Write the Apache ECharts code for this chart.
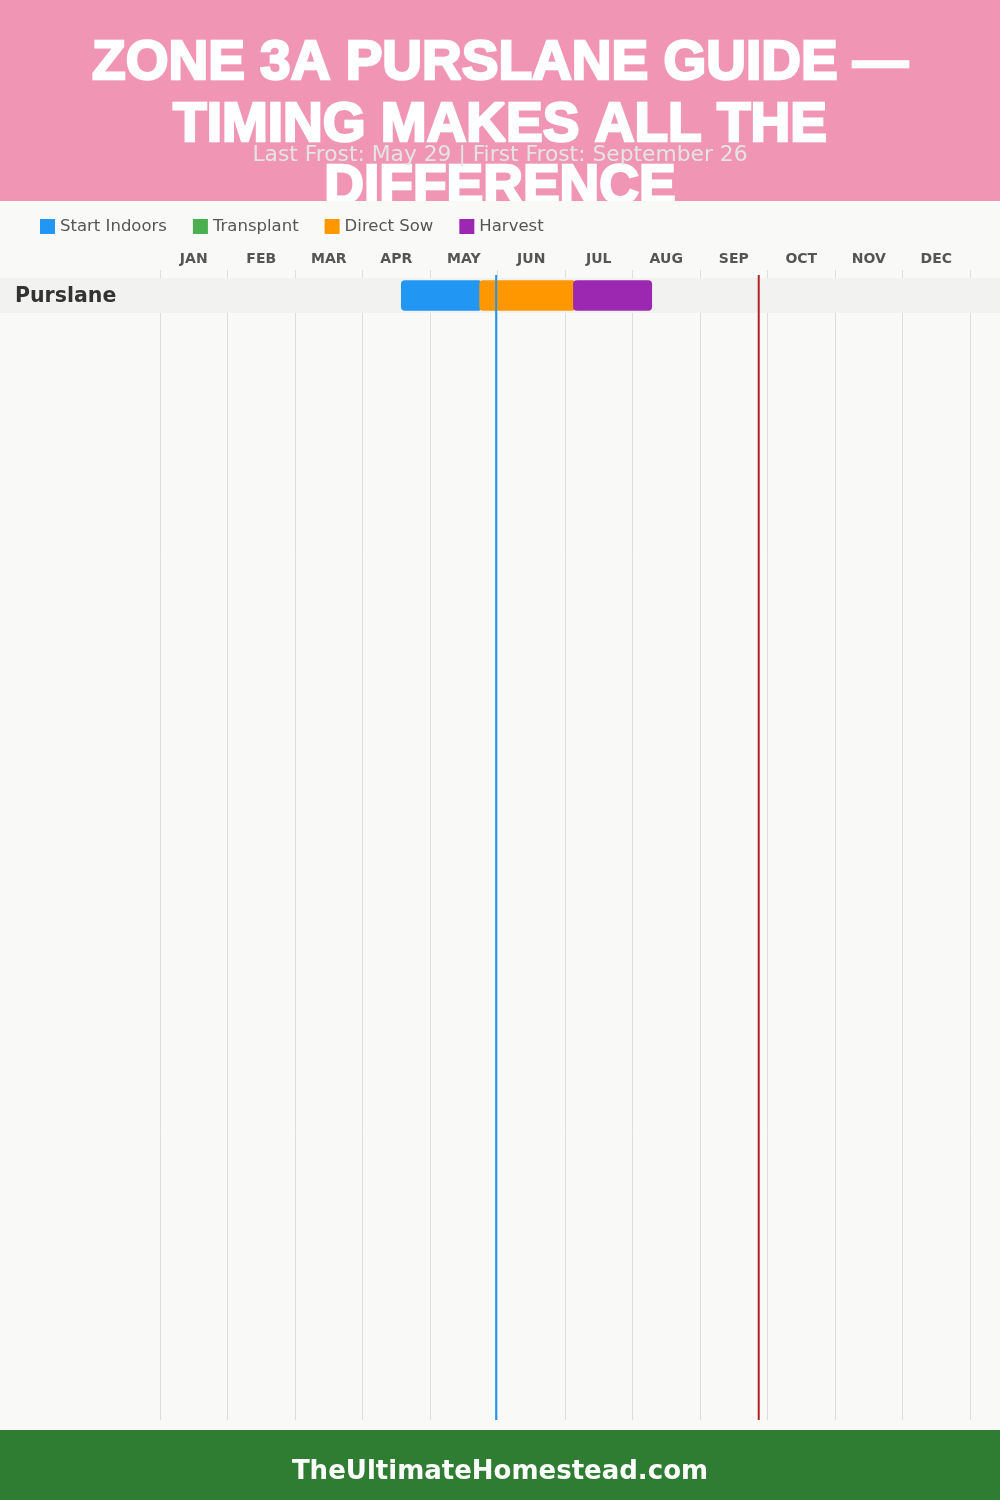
<!DOCTYPE html>
<html>
<head>
<meta charset="utf-8">
<script src="https://cdn.jsdelivr.net/npm/echarts@6/dist/echarts.min.js"></script>
<style>
  html, body { margin: 0; padding: 0; background: #f9f9f8; }
  #chart { width: 1000px; height: 1500px; }
</style>
</head>
<body>
<div id="chart"></div>
<script>
// ---- data ----
const months = ['JAN','FEB','MAR','APR','MAY','JUN','JUL','AUG','SEP','OCT','NOV','DEC'];
const crops = ['Purslane'];
const phaseNames = ['Start Indoors', 'Transplant', 'Direct Sow', 'Harvest'];
const phaseColors = ['#2196F3', '#4CAF50', '#FF9800', '#9C27B0'];
// [cropIndex, start, end] in month units (0 = Jan 1, 12 = Dec 31)
const startIndoors = [[0, 3.57, 4.77]];
const transplant = [];
const directSow = [[0, 4.73, 6.16]];
const harvest = [[0, 6.12, 7.29]];
const frostValues = [4.98, 8.87];           // Last frost (May 29), first frost (Sep 26)
const frostColors = ['#2196F3', '#B22222'];
const titleText = 'ZONE 3A PURSLANE GUIDE —\nTIMING MAKES ALL THE\nDIFFERENCE';
const subtitleText = 'Last Frost: May 29 | First Frost: September 26';
const footerText = 'TheUltimateHomestead.com';

const chart = echarts.init(document.getElementById('chart'), null, { renderer: 'canvas' });

function barRender(params, api) {
  const r = api.value(0);
  const s = api.coord([api.value(1), r]);
  const e = api.coord([api.value(2), r]);
  const top = api.coord([0, r])[1];
  const bottom = api.coord([0, r + 1])[1];
  const rowH = bottom - top;
  const barH = rowH * 0.87;
  return {
    type: 'rect',
    shape: { x: s[0], y: top + (rowH - barH) / 2, width: e[0] - s[0], height: barH, r: 4 },
    style: { fill: api.visual('color') }
  };
}

function bandRender(params, api) {
  const r = api.value(0);
  const top = api.coord([0, r])[1];
  const bottom = api.coord([0, r + 1])[1];
  return {
    type: 'group',
    children: [
      { type: 'rect', shape: { x: 0, y: top, width: api.getWidth(), height: bottom - top },
        style: { fill: '#f2f2f1' } },
      { type: 'text', x: 15, y: (top + bottom) / 2 + 1,
        style: { text: crops[r], fill: '#333333', font: 'bold 20.5px "DejaVu Sans"',
                 textVerticalAlign: 'middle', textAlign: 'left' } }
    ]
  };
}

function frostRender(params, api) {
  const v = api.value(0);
  const p0 = api.coord([v, -0.09]);
  const p1 = api.coord([v, 32.63]);
  return {
    type: 'line',
    shape: { x1: p0[0], y1: p0[1], x2: p1[0], y2: p1[1] },
    style: { stroke: frostColors[params.dataIndex], lineWidth: 2 }
  };
}

const phaseData = [startIndoors, transplant, directSow, harvest];

const option = {
  backgroundColor: '#f9f9f8',
  animation: false,
  color: phaseColors,
  legend: {
    left: 40, top: 218, padding: 0,
    itemWidth: 15, itemHeight: 15, itemGap: 26,
    icon: 'rect',
    data: phaseNames,
    textStyle: { color: '#555555', fontSize: 16.5, fontFamily: 'DejaVu Sans' },
    selectedMode: false
  },
  grid: { left: 160, right: 30, top: 270, bottom: 80 },
  xAxis: [
    { type: 'value', min: 0, max: 12, interval: 1, position: 'bottom',
      axisLabel: { show: false }, axisLine: { show: false }, axisTick: { show: false },
      splitLine: { show: true, lineStyle: { color: '#dddddd', width: 1 } } },
    { type: 'category', data: months, position: 'top', boundaryGap: true,
      axisLine: { show: false }, axisTick: { show: false }, splitLine: { show: false },
      axisLabel: { color: '#555555', fontSize: 14, fontWeight: 'bold', fontFamily: 'DejaVu Sans', margin: 4 } }
  ],
  yAxis: { type: 'value', inverse: true, min: -0.23, max: 32.63, show: false,
           splitLine: { show: false } },
  series: [
    { type: 'custom', name: 'rows', renderItem: bandRender, z: 1, silent: true,
      data: crops.map((c, i) => [i]), encode: { x: -1, y: 0 } },
    ...phaseNames.map((n, i) => ({
      type: 'custom', name: n, renderItem: barRender, z: 2,
      itemStyle: { color: phaseColors[i] },
      data: phaseData[i], encode: { x: [1, 2], y: 0 }
    })),
    { type: 'custom', name: 'frost', renderItem: frostRender, z: 3, silent: true,
      data: frostValues.map(v => [v]), encode: { x: 0 } }
  ],
  graphic: [
    { type: 'rect', shape: { x: 0, y: 0, width: 1000, height: 201 }, style: { fill: '#F096B4' }, z: 0 },
    { type: 'text', x: 500, y: 33, z: 1,
      style: { text: titleText, fill: '#ffffff', font: '900 55px "Liberation Sans"',
               lineHeight: 62, textAlign: 'center', textVerticalAlign: 'top',
               stroke: '#ffffff', lineWidth: 2.5 } },
    { type: 'rect', shape: { x: 0, y: 201, width: 1000, height: 15 }, style: { fill: '#f9f9f8' }, z: 2 },
    { type: 'text', x: 500, y: 155, z: 3,
      style: { text: subtitleText, fill: '#e4e4e4', font: '21.8px "DejaVu Sans"',
               textAlign: 'center', textVerticalAlign: 'middle' } },
    { type: 'rect', shape: { x: 0, y: 1430, width: 1000, height: 70 }, style: { fill: '#2E7D32' }, z: 0 },
    { type: 'text', x: 500, y: 1472, z: 1,
      style: { text: footerText, fill: '#ffffff', font: 'bold 26px "DejaVu Sans"',
               textAlign: 'center', textVerticalAlign: 'middle' } }
  ]
};
chart.setOption(option);
</script>
</body>
</html>
